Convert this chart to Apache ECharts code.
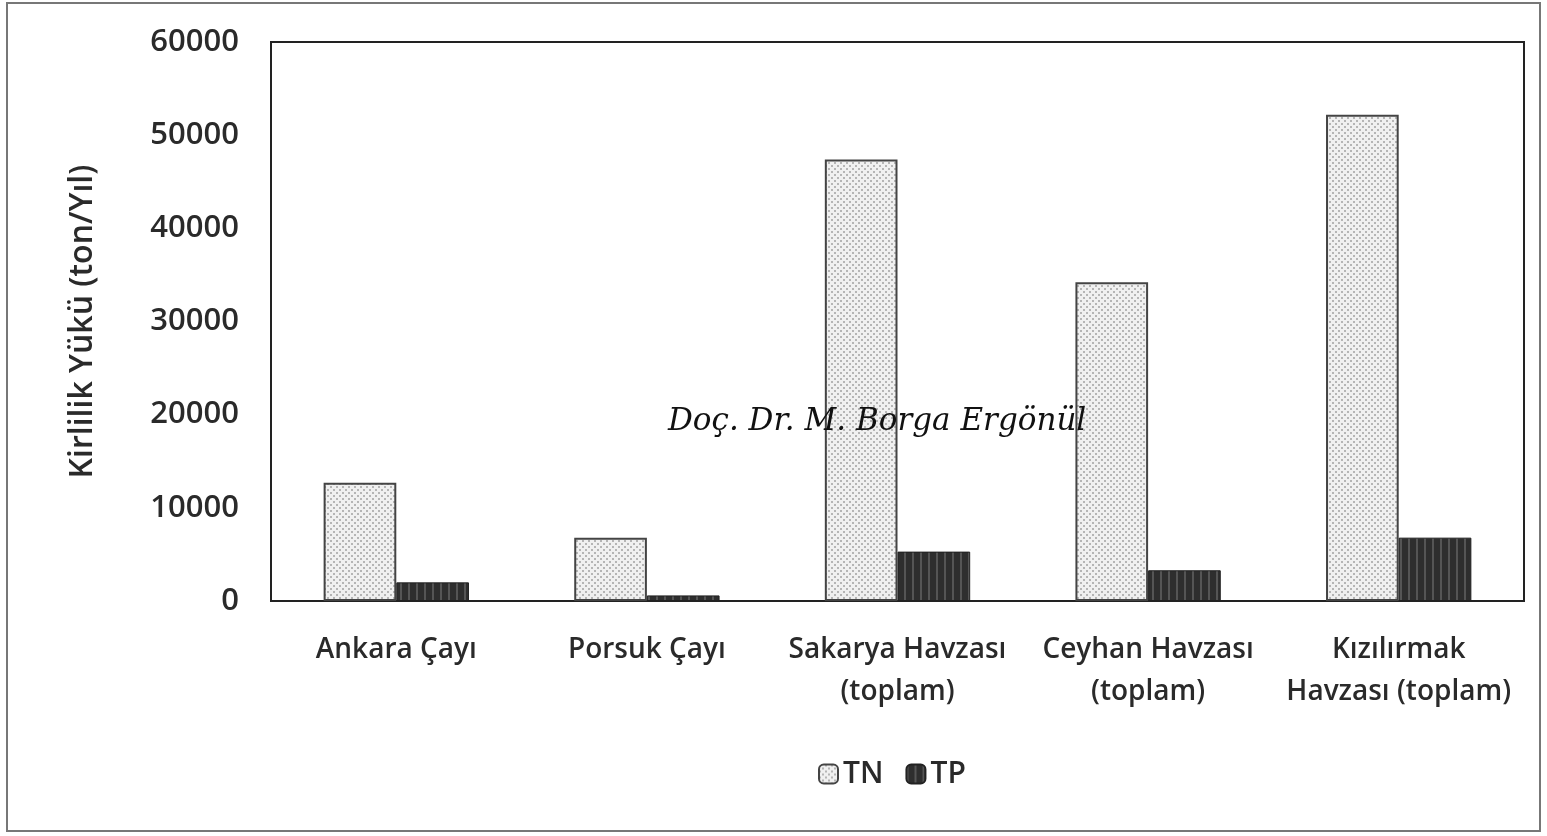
<!DOCTYPE html>
<html><head><meta charset="utf-8">
<script src="https://cdn.jsdelivr.net/npm/echarts@6/dist/echarts.min.js"></script>
<style>html,body{margin:0;padding:0;background:#fff}#c{width:1547px;height:836px}</style>
</head><body><div id="c"></div>
<script>
const categories = ['Ankara Çayı', 'Porsuk Çayı', 'Sakarya Havzası\n(toplam)', 'Ceyhan Havzası\n(toplam)', 'Kızılırmak\nHavzası (toplam)'];
const seriesNames = ['TN', 'TP'];
const tnValues = [12700, 6800, 47400, 34200, 52200];
const tpValues = [2000, 600, 5300, 3300, 6800];
const yTicks = [0, 10000, 20000, 30000, 40000, 50000, 60000];
const yTitle = 'Kirlilik Yükü (ton/Yıl)';
const watermark = 'Doç. Dr. M. Borga Ergönül';

function dotPattern() {
  const c = document.createElement('canvas'); c.width = 6; c.height = 6;
  const x = c.getContext('2d');
  x.fillStyle = '#f0f0f0'; x.fillRect(0, 0, 6, 6);
  x.fillStyle = '#b5b5b5'; x.fillRect(0, 0, 2, 2); x.fillRect(3, 3, 2, 2);
  return c;
}
function stripePattern() {
  const c = document.createElement('canvas'); c.width = 8; c.height = 8;
  const x = c.getContext('2d');
  x.fillStyle = '#2e2e2e'; x.fillRect(0, 0, 8, 8);
  x.fillStyle = '#555'; x.fillRect(0, 0, 2, 8);
  return c;
}
const font = '"Open Sans", "Noto Sans", sans-serif';
const chart = echarts.init(document.getElementById('c'));
chart.setOption({
  animation: false,
  backgroundColor: '#fff',
  grid: { left: 271, right: 23, top: 42, bottom: 235, show: true, borderColor: '#222', borderWidth: 2, containLabel: false },
  legend: {
    data: seriesNames, bottom: 42, left: 813, itemWidth: 19, itemHeight: 19, itemGap: 22,
    textStyle: { fontFamily: font, fontSize: 30, fontWeight: 600, color: '#2a2a2a' }
  },
  xAxis: {
    type: 'category', data: categories,
    axisLine: { lineStyle: { color: '#222', width: 2 } }, axisTick: { show: false },
    axisLabel: { fontFamily: font, fontSize: 28, fontWeight: 600, color: '#2a2a2a', margin: 28, lineHeight: 42, interval: 0 }
  },
  yAxis: {
    type: 'value', min: yTicks[0], max: yTicks[yTicks.length - 1], interval: 10000,
    name: yTitle, nameLocation: 'middle', nameGap: 172, nameRotate: 90,
    nameTextStyle: { fontFamily: font, fontSize: 32, fontWeight: 600, color: '#2a2a2a' },
    splitLine: { show: false }, axisLine: { show: true, lineStyle: { color: '#222', width: 2 } }, axisTick: { show: false },
    axisLabel: { fontFamily: font, fontSize: 31, fontWeight: 600, color: '#2a2a2a', margin: 32, formatter: v => String(v) }
  },
  series: [
    { name: seriesNames[0], type: 'bar', data: tnValues, barGap: '0%', barCategoryGap: '42%',
      itemStyle: { color: { image: dotPattern(), repeat: 'repeat' }, borderColor: '#444', borderWidth: 2 } },
    { name: seriesNames[1], type: 'bar', data: tpValues,
      itemStyle: { color: { image: stripePattern(), repeat: 'repeat' }, borderColor: '#222', borderWidth: 1 } }
  ],
  graphic: [
    { type: 'rect', shape: { x: 7, y: 3, width: 1533, height: 828 }, style: { fill: 'none', stroke: '#777', lineWidth: 2 }, silent: true },
    { type: 'text', left: 668, top: 406, z: 100, style: { text: watermark, font: 'italic 31px "DejaVu Serif", serif', fill: '#111' } }
  ]
});
</script></body></html>
